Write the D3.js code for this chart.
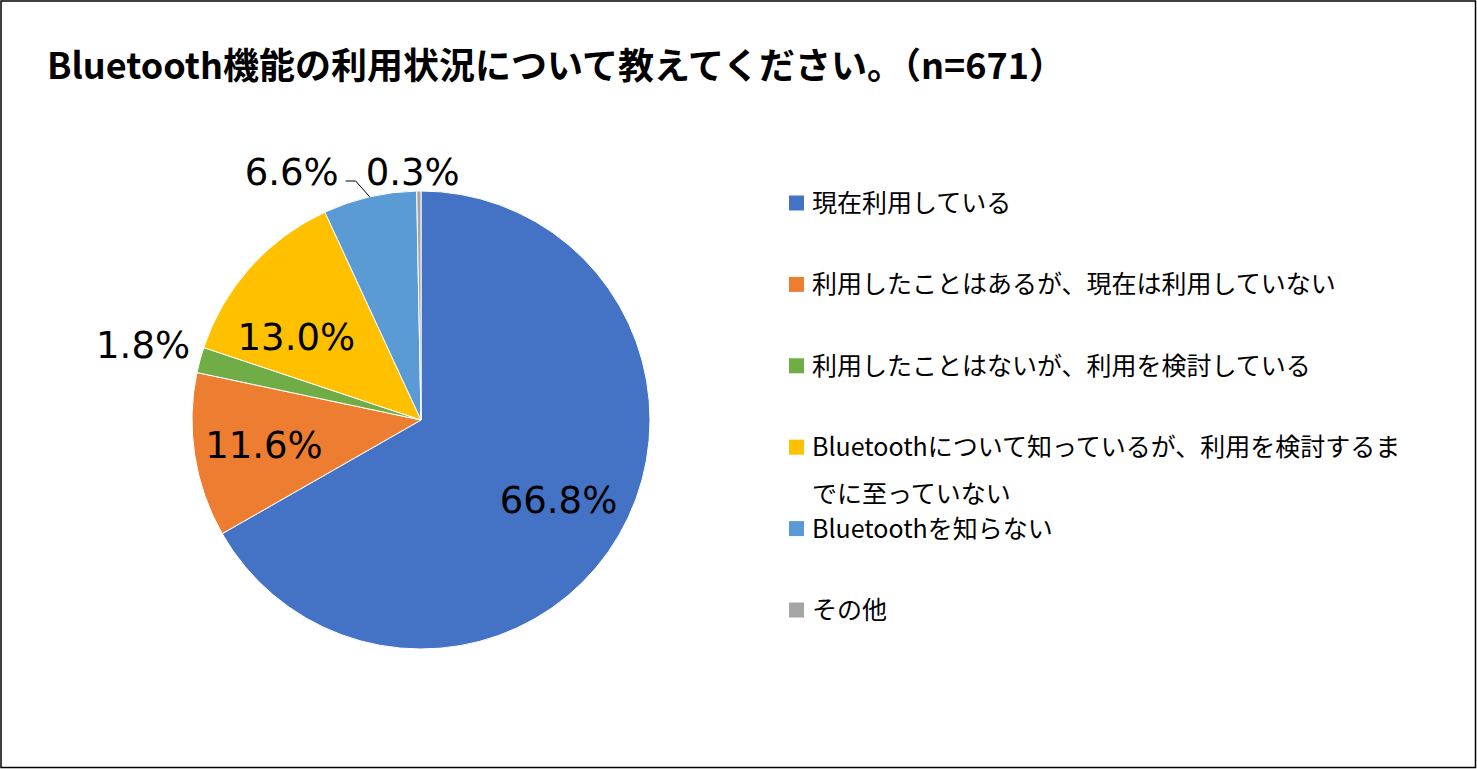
<!DOCTYPE html>
<html>
<head>
<meta charset="utf-8">
<script src="https://cdn.jsdelivr.net/npm/d3@7"></script>
<style>
  html, body { margin: 0; padding: 0; background: #fff; }
  svg { display: block; }
</style>
</head>
<body>
<svg id="chart" width="1477" height="769"></svg>
<script>
const title = "Bluetooth機能の利用状況について教えてください。（n=671）";
const categories = [
  "現在利用している",
  "利用したことはあるが、現在は利用していない",
  "利用したことはないが、利用を検討している",
  "Bluetoothについて知っているが、利用を検討するまでに至っていない",
  "Bluetoothを知らない",
  "その他"
];
const legendLines = [
  ["現在利用している"],
  ["利用したことはあるが、現在は利用していない"],
  ["利用したことはないが、利用を検討している"],
  ["Bluetoothについて知っているが、利用を検討するま", "でに至っていない"],
  ["Bluetoothを知らない"],
  ["その他"]
];
const values = [66.8, 11.6, 1.8, 13.0, 6.6, 0.3];
const colors = ["#4472C4", "#ED7D31", "#70AD47", "#FFC000", "#5B9BD5", "#A5A5A5"];

const W = 1477, H = 769;
const svg = d3.select("#chart");
const cjk = "'Noto Sans CJK JP', 'Noto Sans', sans-serif";
const num = "'DejaVu Sans', Verdana, sans-serif";

// border
svg.append("rect").attr("x", 1).attr("y", 1).attr("width", W - 2.5).attr("height", H - 2.5)
  .attr("fill", "#fff").attr("stroke", "#000").attr("stroke-width", 1.5);

// title
svg.append("text").attr("x", 47).attr("y", 79)
  .attr("font-family", cjk).attr("font-weight", "bold").attr("font-size", 36)
  .attr("fill", "#000").text(title);

// pie
const cx = 421, cy = 420, R = 229;
const g = svg.append("g").attr("transform", `translate(${cx},${cy})`);
const pie = d3.pie().sort(null).value(d => d.v);
const data = values.map((v, i) => ({ v, i }));
const arcs = pie(data);
const arc = d3.arc().innerRadius(0).outerRadius(R);
const color = d3.scaleOrdinal().domain(d3.range(values.length)).range(colors);

g.selectAll("path.slice").data(arcs).join("path")
  .attr("class", "slice")
  .attr("d", arc)
  .attr("fill", d => color(d.data.i))
  .attr("stroke", "#fff").attr("stroke-width", 1);

const fmt = d3.format(".1f");
const pt = (a, r) => [Math.sin(a) * r, -Math.cos(a) * r];
const mid = d => (d.startAngle + d.endAngle) / 2;

// inside labels (large slices)
const insideIdx = [0, 1, 3];
insideIdx.forEach(i => {
  const d = arcs[i];
  let r = 159;
  let a = mid(d);
  if (i === 3) { r = 150; a = a - 0.14; }
  const [x, y] = pt(a, r);
  g.append("text").attr("x", x).attr("y", y).attr("dy", "0.36em")
    .attr("text-anchor", "middle").attr("font-family", num).attr("font-size", 37)
    .attr("fill", "#000").text(fmt(d.data.v) + "%");
});

// outside: 1.8%
{
  const d = arcs[2];
  const [x, y] = pt(mid(d), 288);
  g.append("text").attr("x", x).attr("y", y).attr("dy", "0.36em")
    .attr("text-anchor", "middle").attr("font-family", num).attr("font-size", 37)
    .attr("fill", "#000").text(fmt(d.data.v) + "%");
}
// outside: 0.3%
let smallX, smallY;
{
  const d = arcs[5];
  const [x, y] = pt(mid(d), 248);
  smallX = x; smallY = y;
  g.append("text").attr("x", x - 6).attr("y", y).attr("dy", "0.36em")
    .attr("text-anchor", "middle").attr("font-family", num).attr("font-size", 37)
    .attr("fill", "#000").text(fmt(d.data.v) + "%");
}
// outside: 6.6% with leader line
{
  const d = arcs[4];
  const endX = smallX - 80;
  g.append("text").attr("x", endX).attr("y", smallY).attr("dy", "0.36em")
    .attr("text-anchor", "end").attr("font-family", num).attr("font-size", 37)
    .attr("fill", "#000").text(fmt(d.data.v) + "%");
  const [ex, ey] = pt(mid(d), R);
  g.append("polyline")
    .attr("points", [[endX + 7, smallY + 9], [endX + 17, smallY + 9], [ex, ey]].map(p => p.join(",")).join(" "))
    .attr("fill", "none").attr("stroke", "#000").attr("stroke-width", 1);
}

// legend
const ly = d3.scaleLinear().domain([0, categories.length - 1]).range([203, 610]);
const lg = svg.append("g");
categories.forEach((c, i) => {
  const y = ly(i);
  lg.append("rect").attr("x", 789).attr("y", y - 7.5).attr("width", 15).attr("height", 15)
    .attr("fill", color(i));
  const t = lg.append("text").attr("x", 812).attr("y", y).attr("dy", "0.36em")
    .attr("font-family", cjk).attr("font-size", 25).attr("fill", "#000");
  legendLines[i].forEach((ln, j) => {
    t.append("tspan").attr("x", 812).attr("dy", j === 0 ? "0.36em" : 47).text(ln);
  });
});
</script>
</body>
</html>
